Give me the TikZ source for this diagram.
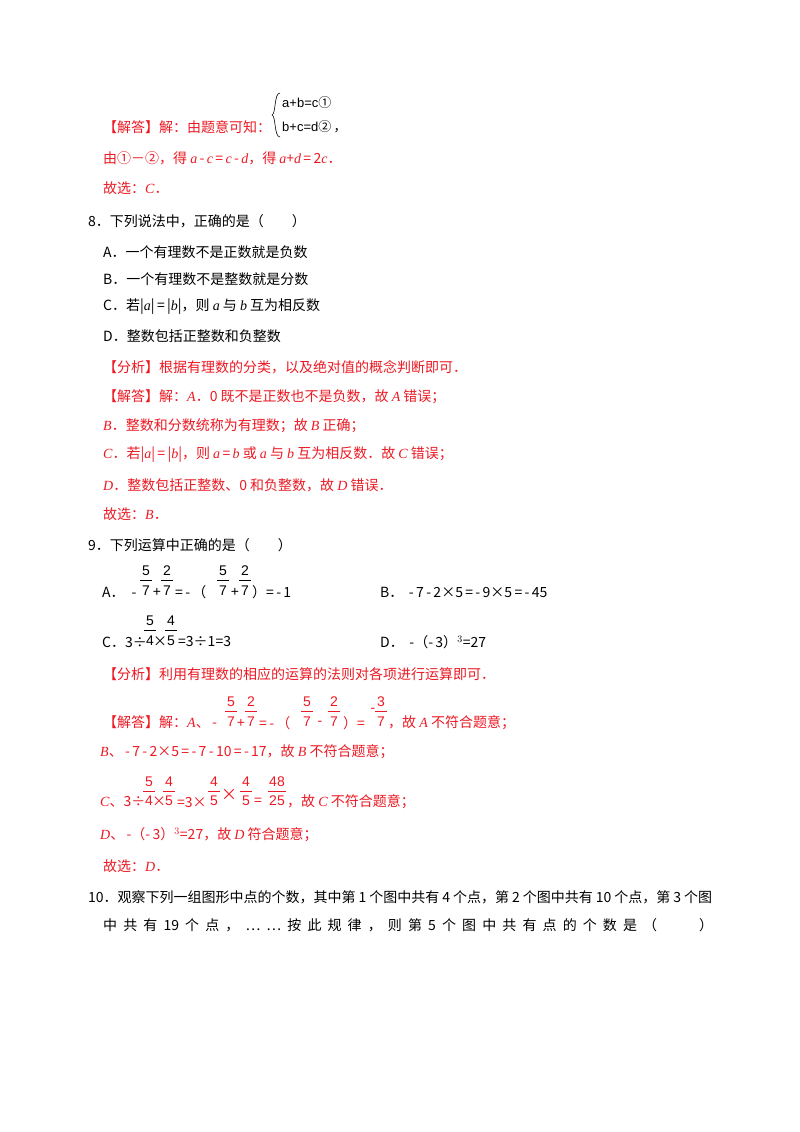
\documentclass[tikz,border=0pt]{standalone}
\usepackage{fontspec}
\setmainfont{Liberation Serif}
\newfontfamily\cn{Noto Sans CJK SC}
\newfontfamily\lsans{Liberation Sans}
\newcommand\vi[1]{{\rmfamily\itshape #1}}
\definecolor{ans}{RGB}{235,25,35}
\begin{document}
\begin{tikzpicture}[x=1pt,y=-1pt,
  t/.style={anchor=west,inner sep=0,font=\fontsize{14}{16}\selectfont\cn},
  r/.style={t,text=ans},
  nm/.style={anchor=center,inner sep=0,font=\fontsize{14}{16}\selectfont\lsans},
  bar/.style={line width=0.6pt}]
\useasboundingbox (0,0) rectangle (800,1132);
\newcommand\fr[4]{\node[nm,text=#4] at (#1,#2) {#3}; \draw[bar,#4] (#1-6,#2+9) -- (#1+6,#2+9);}
% --- question 7 answer
\node[r] (a1) at (103,127) {【解答】解：由题意可知：};
\draw[line width=0.6pt] (280,93) .. controls (274,93) and (276,114) .. (272,115) .. controls (276,116) and (274,137) .. (280,137);
\node[t,font=\fontsize{13}{15}\selectfont\lsans] (s1) at (282,103) {a+b=c\cn①};
\node[t,font=\fontsize{13}{15}\selectfont\lsans] (s2) at (282,127) {b+c=d\cn②\,，};
\node[r] (a2) at (103,158) {由①－②，得 \vi{a}\,-\,\vi{c}\,=\,\vi{c}\,-\,\vi{d}，得 \vi{a}+\vi{d}\,=\,2\vi{c}．};
\node[r] (a3) at (103,188) {故选：\vi{C}．};
% --- question 8
\node[t] (q8) at (88,221) {8．下列说法中，正确的是（\hspace{2em}）};
\node[t] (q8a) at (103,252) {A．一个有理数不是正数就是负数};
\node[t] (q8b) at (103,279) {B．一个有理数不是整数就是分数};
\node[t] (q8c) at (103,307) {C．若|\vi{a}|\,=\,|\vi{b}|，则 \vi{a} 与 \vi{b} 互为相反数};
\node[t] (q8d) at (103,336) {D．整数包括正整数和负整数};
\node[r] (f8) at (103,367) {【分析】根据有理数的分类，以及绝对值的概念判断即可．};
\node[r] (j8) at (103,397) {【解答】解：\vi{A}．0 既不是正数也不是负数，故 \vi{A} 错误；};
\node[r] (j8b) at (103,426) {\vi{B}．整数和分数统称为有理数；故 \vi{B} 正确；};
\node[r] (j8c) at (103,455) {\vi{C}．若|\vi{a}|\,=\,|\vi{b}|，则 \vi{a}\,=\,\vi{b} 或 \vi{a} 与 \vi{b} 互为相反数．故 \vi{C} 错误；};
\node[r] (j8d) at (103,485) {\vi{D}．整数包括正整数、0 和负整数，故 \vi{D} 错误．};
\node[r] (j8e) at (103,514) {故选：\vi{B}．};
% --- question 9
\node[t] (q9) at (88,545) {9．下列运算中正确的是（\hspace{2em}）};
\node[t] (q9a) at (102,592) {A．\hspace{0.5em}-};
\fr{146}{571}{5}{black}\node[nm] at (146,591) {7};
\node[nm] at (157,592) {+};
\fr{167}{571}{2}{black}\node[nm] at (167,591) {7};
\node[t] at (175,592) {=\,-\,（};
\fr{223}{571}{5}{black}\node[nm] at (223,591) {7};
\node[nm] at (235,592) {+};
\fr{245}{571}{2}{black}\node[nm] at (245,591) {7};
\node[t] at (252,592) {）=\,-\,1};
\node[t] (q9b) at (380,592) {B．\hspace{0.4em}-\,7\,-\,2×5\,=\,-\,9×5\,=\,-\,45};
\node[t] (q9c) at (102,642) {C．3÷};
\fr{150}{621}{5}{black}\node[nm] at (150,641) {4};
\node[nm] at (160,642) {\cn ×};
\fr{171}{621}{4}{black}\node[nm] at (171,641) {5};
\node[t] at (178,642) {=3÷1=3};
\node[t] (q9d) at (380,642) {D．\hspace{0.4em}-（-\,3）$^{3}$=27};
\node[r] (f9) at (103,674) {【分析】利用有理数的相应的运算的法则对各项进行运算即可．};
\node[r] (j9) at (103,722) {【解答】解：\vi{A}、\,-};
\fr{231}{702}{5}{ans}\node[nm,text=ans] at (231,722) {7};
\node[nm,text=ans] at (241,723) {+};
\fr{251}{702}{2}{ans}\node[nm,text=ans] at (251,722) {7};
\node[r] at (259,723) {=\,-\,（};
\fr{307}{702}{5}{ans}\node[nm,text=ans] at (307,722) {7};
\node[nm,text=ans] at (320,723) {-};
\fr{334}{702}{2}{ans}\node[nm,text=ans] at (334,722) {7};
\node[r] at (343,723) {）=};
\node[nm,text=ans] at (373,710) {-};
\fr{381}{702}{3}{ans}\node[nm,text=ans] at (381,722) {7};
\node[r] at (388,723) {，故 \vi{A} 不符合题意；};
\node[r] (j9b) at (100,752) {\vi{B}、\,-\,7\,-\,2×5\,=\,-\,7\,-\,10\,=\,-\,17，故 \vi{B} 不符合题意；};
\node[r] (j9c) at (100,802) {\vi{C}、3÷};
\fr{149}{782}{5}{ans}\node[nm,text=ans] at (149,801) {4};
\node[nm,text=ans] at (159,802) {\cn ×};
\fr{169}{782}{4}{ans}\node[nm,text=ans] at (169,801) {5};
\node[r] at (177,802) {=3×};
\fr{214}{782}{4}{ans}\node[nm,text=ans] at (214,801) {5};
\node[nm,text=ans] at (229,795) {\fontsize{16}{16}\selectfont\cn ×};
\fr{246}{782}{4}{ans}\node[nm,text=ans] at (246,801) {5};
\node[r] at (254,802) {=};
\node[nm,text=ans] at (277,782) {48};
\draw[bar,ans] (268,791) -- (286,791);
\node[nm,text=ans] at (277,801) {25};
\node[r] at (287,802) {，故 \vi{C} 不符合题意；};
\node[r] (j9d) at (100,835) {\vi{D}、\,-（-\,3）$^{3}$=27，故 \vi{D} 符合题意；};
\node[r] (j9e) at (103,866) {故选：\vi{D}．};
% --- question 10
\node[t] (q10) at (88,897) {\makebox[624pt][s]{10．观察下列一组图形中点的个数，其中第 1 个图中共有 4 个点，第 2 个图中共有 10 个点，第 3 个图}};
\node[t] (q10b) at (103,925) {\makebox[610pt][l]{中\hfill 共\hfill 有\hfill 19\hfill 个\hfill 点\hfill ，\hfill …\hfill …\hfill 按\hfill 此\hfill 规\hfill 律\hfill ，\hfill 则\hfill 第\hfill 5\hfill 个\hfill 图\hfill 中\hfill 共\hfill 有\hfill 点\hfill 的\hfill 个\hfill 数\hfill 是\hfill （\hspace{3em}）}};
\end{tikzpicture}
\end{document}
